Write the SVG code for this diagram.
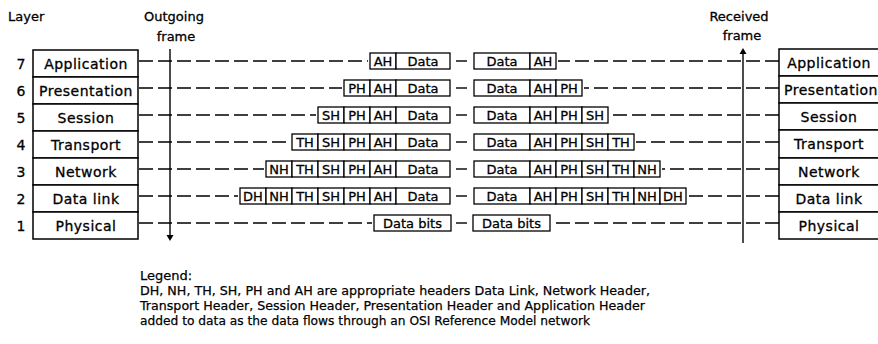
<svg xmlns="http://www.w3.org/2000/svg" width="878" height="344" viewBox="0 0 878 344">
<defs>
<style>
.bg{fill:#fff}
.cell{fill:#fff;stroke:#000;stroke-width:1.5}
.pk{fill:#fff;stroke:#000;stroke-width:1.3}
.lbl{font-family:"DejaVu Sans","Liberation Sans",sans-serif;font-size:14px;letter-spacing:0.5px;fill:#000;stroke:#000;stroke-width:0.3;text-anchor:middle}
.ptx{font-family:"DejaVu Sans","Liberation Sans",sans-serif;font-size:13px;fill:#000;stroke:#000;stroke-width:0.3;text-anchor:middle}
.hdr{font-family:"DejaVu Sans","Liberation Sans",sans-serif;font-size:13px;fill:#000;stroke:#000;stroke-width:0.3}
.num{font-family:"DejaVu Sans","Liberation Sans",sans-serif;font-size:14px;fill:#000;stroke:#000;stroke-width:0.3;text-anchor:middle}
.leg{font-family:"DejaVu Sans","Liberation Sans",sans-serif;font-size:13px;fill:#000;stroke:#000;stroke-width:0.25}
.dash{stroke:#000;stroke-width:1.4;stroke-dasharray:14 5;fill:none}
.solid{stroke:#000;stroke-width:1.4;fill:none}
</style>
</defs>
<rect class="bg" x="0" y="0" width="878" height="344"/>

<g id="titles">
<text class="hdr" x="8" y="21">Layer</text>
<text class="hdr" x="174" y="21" text-anchor="middle">Outgoing</text>
<text class="hdr" x="176" y="41" text-anchor="middle">frame</text>
<text class="hdr" x="739" y="21" text-anchor="middle">Received</text>
<text class="hdr" x="742" y="40" text-anchor="middle">frame</text>
</g>

<g id="layer-numbers">
<text class="num" x="21" y="69">7</text>
<text class="num" x="21" y="96">6</text>
<text class="num" x="21" y="123">5</text>
<text class="num" x="21" y="150">4</text>
<text class="num" x="21" y="177">3</text>
<text class="num" x="21" y="204">2</text>
<text class="num" x="21" y="231">1</text>
</g>

<g id="connectors">
<line class="solid" x1="170" y1="49" x2="170" y2="236"/>
<polygon points="170,241 166.5,235 173.5,235" fill="#000"/>
<line class="solid" x1="743" y1="243" x2="743" y2="54"/>
<polygon points="743,48 739.5,54 746.5,54" fill="#000"/>
<line class="dash" x1="139" y1="61" x2="368" y2="61"/>
<line class="dash" x1="139" y1="88" x2="342" y2="88"/>
<line class="dash" x1="139" y1="115" x2="316" y2="115"/>
<line class="dash" x1="139" y1="142" x2="290" y2="142"/>
<line class="dash" x1="139" y1="169" x2="264" y2="169"/>
<line class="dash" x1="139" y1="196" x2="238" y2="196"/>
<line class="dash" x1="139" y1="223" x2="372" y2="223"/>
<line class="solid" x1="456" y1="61" x2="467" y2="61"/>
<line class="solid" x1="456" y1="88" x2="467" y2="88"/>
<line class="solid" x1="456" y1="115" x2="467" y2="115"/>
<line class="solid" x1="456" y1="142" x2="467" y2="142"/>
<line class="solid" x1="456" y1="169" x2="467" y2="169"/>
<line class="solid" x1="456" y1="196" x2="467" y2="196"/>
<line class="solid" x1="456" y1="223" x2="467" y2="223"/>
<line class="dash" x1="779" y1="61" x2="558" y2="61"/>
<line class="dash" x1="779" y1="88" x2="584" y2="88"/>
<line class="dash" x1="779" y1="115" x2="610" y2="115"/>
<line class="dash" x1="779" y1="142" x2="636" y2="142"/>
<line class="dash" x1="779" y1="169" x2="662" y2="169"/>
<line class="dash" x1="779" y1="196" x2="688" y2="196"/>
<line class="dash" x1="779" y1="223" x2="552" y2="223"/>
</g>

<g id="left-stack">
<g id="left-application"><rect class="cell" x="33" y="50" width="105" height="27"/><text class="lbl" x="86" y="69">Application</text></g>
<g id="left-presentation"><rect class="cell" x="33" y="77" width="105" height="27"/><text class="lbl" x="86" y="96">Presentation</text></g>
<g id="left-session"><rect class="cell" x="33" y="104" width="105" height="27"/><text class="lbl" x="86" y="123">Session</text></g>
<g id="left-transport"><rect class="cell" x="33" y="131" width="105" height="27"/><text class="lbl" x="86" y="150">Transport</text></g>
<g id="left-network"><rect class="cell" x="33" y="158" width="105" height="27"/><text class="lbl" x="86" y="177">Network</text></g>
<g id="left-datalink"><rect class="cell" x="33" y="185" width="105" height="27"/><text class="lbl" x="86" y="204">Data link</text></g>
<g id="left-physical"><rect class="cell" x="33" y="212" width="105" height="27"/><text class="lbl" x="86" y="231">Physical</text></g>
</g>

<g id="right-stack">
<g id="right-application"><rect class="cell" x="779" y="49" width="110" height="27"/><text class="lbl" x="829" y="68">Application</text></g>
<g id="right-presentation"><rect class="cell" x="779" y="76" width="110" height="27"/><text class="lbl" x="831" y="95">Presentation</text></g>
<g id="right-session"><rect class="cell" x="779" y="103" width="110" height="27"/><text class="lbl" x="829" y="122">Session</text></g>
<g id="right-transport"><rect class="cell" x="779" y="130" width="110" height="28"/><text class="lbl" x="829" y="149">Transport</text></g>
<g id="right-network"><rect class="cell" x="779" y="158" width="110" height="27"/><text class="lbl" x="829" y="177">Network</text></g>
<g id="right-datalink"><rect class="cell" x="779" y="185" width="110" height="27"/><text class="lbl" x="829" y="204">Data link</text></g>
<g id="right-physical"><rect class="cell" x="779" y="212" width="110" height="27"/><text class="lbl" x="829" y="231">Physical</text></g>
</g>

<g id="outgoing-7">
<rect class="pk" x="370" y="53" width="26" height="16"/><text class="ptx" x="383" y="65.5">AH</text>
<rect class="pk" x="396" y="53" width="54" height="16"/><text class="ptx" x="423" y="65.5">Data</text>
</g>
<g id="outgoing-6">
<rect class="pk" x="344" y="80" width="26" height="16"/><text class="ptx" x="357" y="92.5">PH</text>
<rect class="pk" x="370" y="80" width="26" height="16"/><text class="ptx" x="383" y="92.5">AH</text>
<rect class="pk" x="396" y="80" width="54" height="16"/><text class="ptx" x="423" y="92.5">Data</text>
</g>
<g id="outgoing-5">
<rect class="pk" x="318" y="107" width="26" height="16"/><text class="ptx" x="331" y="119.5">SH</text>
<rect class="pk" x="344" y="107" width="26" height="16"/><text class="ptx" x="357" y="119.5">PH</text>
<rect class="pk" x="370" y="107" width="26" height="16"/><text class="ptx" x="383" y="119.5">AH</text>
<rect class="pk" x="396" y="107" width="54" height="16"/><text class="ptx" x="423" y="119.5">Data</text>
</g>
<g id="outgoing-4">
<rect class="pk" x="292" y="134" width="26" height="16"/><text class="ptx" x="305" y="146.5">TH</text>
<rect class="pk" x="318" y="134" width="26" height="16"/><text class="ptx" x="331" y="146.5">SH</text>
<rect class="pk" x="344" y="134" width="26" height="16"/><text class="ptx" x="357" y="146.5">PH</text>
<rect class="pk" x="370" y="134" width="26" height="16"/><text class="ptx" x="383" y="146.5">AH</text>
<rect class="pk" x="396" y="134" width="54" height="16"/><text class="ptx" x="423" y="146.5">Data</text>
</g>
<g id="outgoing-3">
<rect class="pk" x="266" y="161" width="26" height="16"/><text class="ptx" x="279" y="173.5">NH</text>
<rect class="pk" x="292" y="161" width="26" height="16"/><text class="ptx" x="305" y="173.5">TH</text>
<rect class="pk" x="318" y="161" width="26" height="16"/><text class="ptx" x="331" y="173.5">SH</text>
<rect class="pk" x="344" y="161" width="26" height="16"/><text class="ptx" x="357" y="173.5">PH</text>
<rect class="pk" x="370" y="161" width="26" height="16"/><text class="ptx" x="383" y="173.5">AH</text>
<rect class="pk" x="396" y="161" width="54" height="16"/><text class="ptx" x="423" y="173.5">Data</text>
</g>
<g id="outgoing-2">
<rect class="pk" x="240" y="188" width="26" height="16"/><text class="ptx" x="253" y="200.5">DH</text>
<rect class="pk" x="266" y="188" width="26" height="16"/><text class="ptx" x="279" y="200.5">NH</text>
<rect class="pk" x="292" y="188" width="26" height="16"/><text class="ptx" x="305" y="200.5">TH</text>
<rect class="pk" x="318" y="188" width="26" height="16"/><text class="ptx" x="331" y="200.5">SH</text>
<rect class="pk" x="344" y="188" width="26" height="16"/><text class="ptx" x="357" y="200.5">PH</text>
<rect class="pk" x="370" y="188" width="26" height="16"/><text class="ptx" x="383" y="200.5">AH</text>
<rect class="pk" x="396" y="188" width="54" height="16"/><text class="ptx" x="423" y="200.5">Data</text>
</g>
<g id="outgoing-1">
<rect class="pk" x="374" y="215" width="77" height="16"/><text class="ptx" x="412.5" y="227.5">Data bits</text>
</g>

<g id="received-7">
<rect class="pk" x="474" y="53" width="56" height="16"/><text class="ptx" x="502" y="65.5">Data</text>
<rect class="pk" x="530" y="53" width="26" height="16"/><text class="ptx" x="543" y="65.5">AH</text>
</g>
<g id="received-6">
<rect class="pk" x="474" y="80" width="56" height="16"/><text class="ptx" x="502" y="92.5">Data</text>
<rect class="pk" x="530" y="80" width="26" height="16"/><text class="ptx" x="543" y="92.5">AH</text>
<rect class="pk" x="556" y="80" width="26" height="16"/><text class="ptx" x="569" y="92.5">PH</text>
</g>
<g id="received-5">
<rect class="pk" x="474" y="107" width="56" height="16"/><text class="ptx" x="502" y="119.5">Data</text>
<rect class="pk" x="530" y="107" width="26" height="16"/><text class="ptx" x="543" y="119.5">AH</text>
<rect class="pk" x="556" y="107" width="26" height="16"/><text class="ptx" x="569" y="119.5">PH</text>
<rect class="pk" x="582" y="107" width="26" height="16"/><text class="ptx" x="595" y="119.5">SH</text>
</g>
<g id="received-4">
<rect class="pk" x="474" y="134" width="56" height="16"/><text class="ptx" x="502" y="146.5">Data</text>
<rect class="pk" x="530" y="134" width="26" height="16"/><text class="ptx" x="543" y="146.5">AH</text>
<rect class="pk" x="556" y="134" width="26" height="16"/><text class="ptx" x="569" y="146.5">PH</text>
<rect class="pk" x="582" y="134" width="26" height="16"/><text class="ptx" x="595" y="146.5">SH</text>
<rect class="pk" x="608" y="134" width="26" height="16"/><text class="ptx" x="621" y="146.5">TH</text>
</g>
<g id="received-3">
<rect class="pk" x="474" y="161" width="56" height="16"/><text class="ptx" x="502" y="173.5">Data</text>
<rect class="pk" x="530" y="161" width="26" height="16"/><text class="ptx" x="543" y="173.5">AH</text>
<rect class="pk" x="556" y="161" width="26" height="16"/><text class="ptx" x="569" y="173.5">PH</text>
<rect class="pk" x="582" y="161" width="26" height="16"/><text class="ptx" x="595" y="173.5">SH</text>
<rect class="pk" x="608" y="161" width="26" height="16"/><text class="ptx" x="621" y="173.5">TH</text>
<rect class="pk" x="634" y="161" width="26" height="16"/><text class="ptx" x="647" y="173.5">NH</text>
</g>
<g id="received-2">
<rect class="pk" x="474" y="188" width="56" height="16"/><text class="ptx" x="502" y="200.5">Data</text>
<rect class="pk" x="530" y="188" width="26" height="16"/><text class="ptx" x="543" y="200.5">AH</text>
<rect class="pk" x="556" y="188" width="26" height="16"/><text class="ptx" x="569" y="200.5">PH</text>
<rect class="pk" x="582" y="188" width="26" height="16"/><text class="ptx" x="595" y="200.5">SH</text>
<rect class="pk" x="608" y="188" width="26" height="16"/><text class="ptx" x="621" y="200.5">TH</text>
<rect class="pk" x="634" y="188" width="26" height="16"/><text class="ptx" x="647" y="200.5">NH</text>
<rect class="pk" x="660" y="188" width="26" height="16"/><text class="ptx" x="673" y="200.5">DH</text>
</g>
<g id="received-1">
<rect class="pk" x="473" y="215" width="77" height="16"/><text class="ptx" x="511.5" y="227.5">Data bits</text>
</g>

<g id="legend">
<text class="leg" x="140" y="280">Legend:</text>
<text class="leg" x="140" y="295" textLength="510" lengthAdjust="spacingAndGlyphs">DH, NH, TH, SH, PH and AH are appropriate headers Data Link, Network Header,</text>
<text class="leg" x="140" y="310" textLength="505" lengthAdjust="spacingAndGlyphs">Transport Header, Session Header, Presentation Header and Application Header</text>
<text class="leg" x="140" y="325" textLength="450" lengthAdjust="spacingAndGlyphs">added to data as the data flows through an OSI Reference Model network</text>
</g>
</svg>
